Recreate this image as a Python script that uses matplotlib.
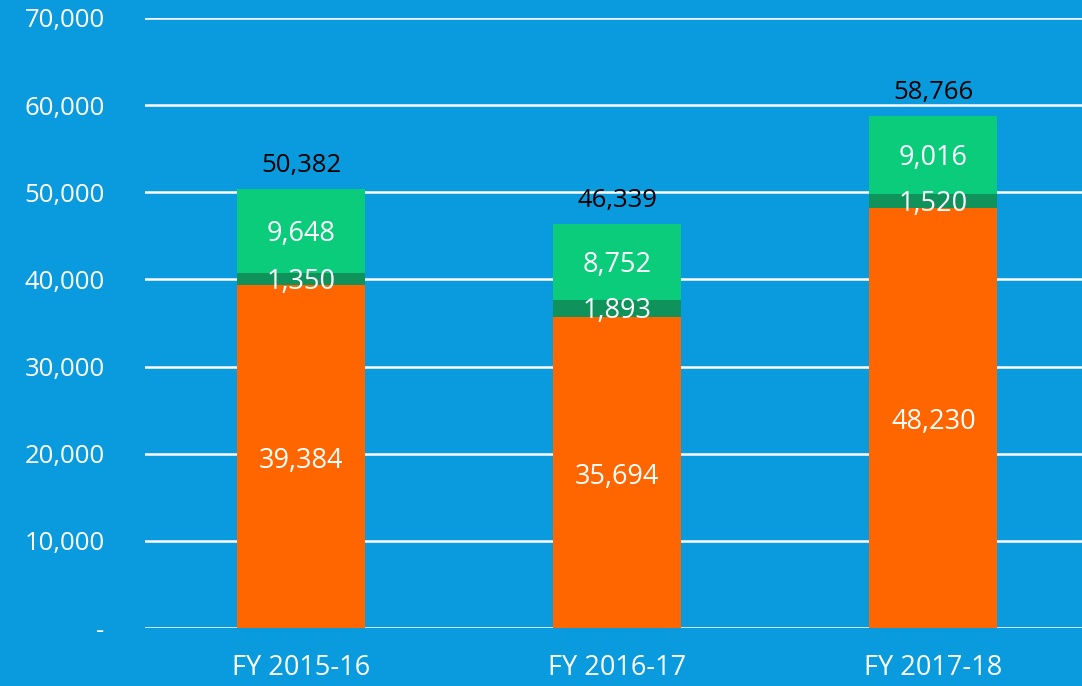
import matplotlib
matplotlib.use("Agg")
import matplotlib.pyplot as plt
import numpy as np

# data
categories = ["FY 2015-16", "FY 2016-17", "FY 2017-18"]
orange_vals = [39384, 35694, 48230]
dark_green_vals = [1350, 1893, 1520]
light_green_vals = [9648, 8752, 9016]
totals = [50382, 46339, 58766]
y_ticks = [0, 10000, 20000, 30000, 40000, 50000, 60000, 70000]

BG = "#0A9ADE"
ORANGE = "#FF6600"
DGREEN = "#10935A"
LGREEN = "#0ACC7A"

plt.rcParams['font.family'] = ['Open Sans', 'DejaVu Sans']

fig = plt.figure(figsize=(10.82, 6.86), dpi=100, facecolor=BG)
ax = fig.add_axes([0.134, 0.0845, 0.866, 0.8893], facecolor=BG)

x = np.arange(len(categories))
w = 0.405
o = np.array(orange_vals)
d = np.array(dark_green_vals)
l = np.array(light_green_vals)

ax.set_axisbelow(True)
for yv in y_ticks:
    ax.axhline(yv, color="white", lw=1.8, zorder=0)

ax.bar(x, o, w, color=ORANGE, zorder=2)
ax.bar(x, d, w, bottom=o, color=DGREEN, zorder=2)
ax.bar(x, l, w, bottom=o + d, color=LGREEN, zorder=2)

for i in range(len(x)):
    ax.text(x[i], o[i] / 2 - 500, f"{o[i]:,}", ha="center", va="center",
            color="white", fontsize=19.5, zorder=3)
    ax.text(x[i], o[i] + d[i] / 2 - 300, f"{d[i]:,}", ha="center", va="center",
            color="white", fontsize=19.5, zorder=3)
    ax.text(x[i], o[i] + d[i] + l[i] / 2 - 300, f"{l[i]:,}", ha="center", va="center",
            color="white", fontsize=19.5, zorder=3)
    ax.text(x[i], totals[i] + 2700, f"{totals[i]:,}", ha="center", va="center",
            color="black", fontsize=18.5, zorder=3)

ax.set_xlim(-0.494, 2.47)
ax.set_ylim(0, 70000)
ax.set_yticks(y_ticks)
ax.set_yticklabels(["-"] + [f"{v:,}" for v in y_ticks[1:]])
ax.set_xticks(x)
ax.set_xticklabels(categories)
ax.tick_params(axis="y", colors="white", labelsize=18.5, length=0, pad=29)
ax.tick_params(axis="x", colors="white", labelsize=19.5, length=0, pad=19)
for s in ax.spines.values():
    s.set_visible(False)

fig.savefig("out.png", dpi=100, facecolor=BG)
